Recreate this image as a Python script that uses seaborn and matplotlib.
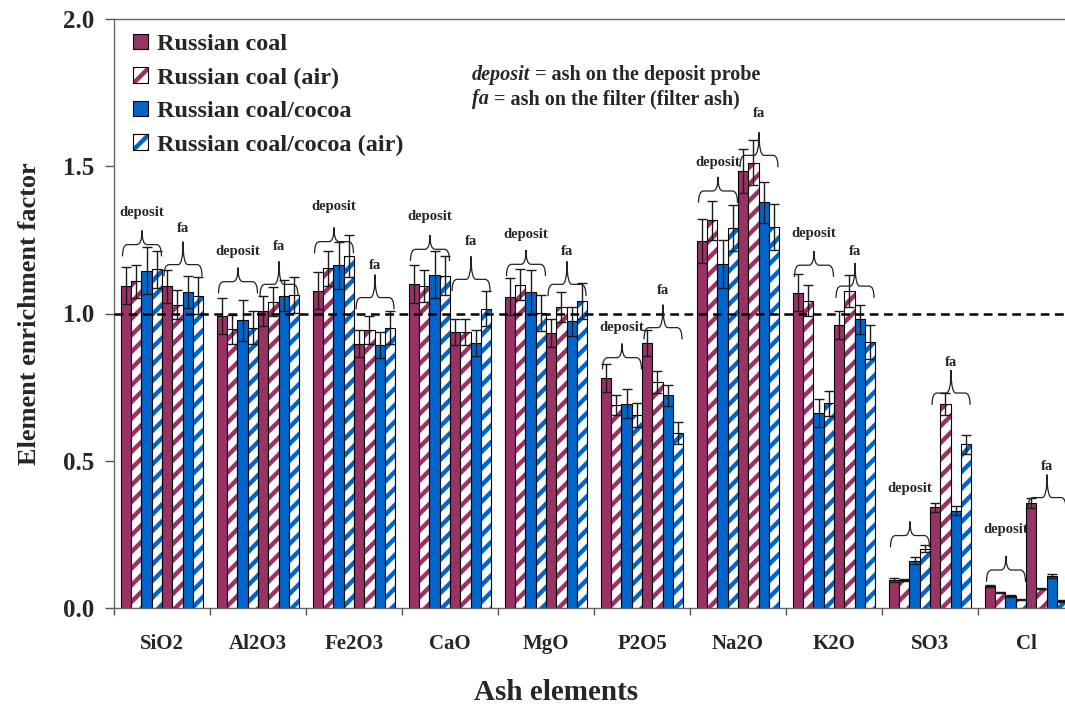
import numpy as np
import pandas as pd
import matplotlib
matplotlib.use("Agg")
import matplotlib.pyplot as plt
import seaborn as sns
from matplotlib.path import Path
from matplotlib.patches import PathPatch, Patch, Rectangle
from matplotlib.container import BarContainer

# ---------------------------------------------------------------- data
elements = ["SiO2", "Al2O3", "Fe2O3", "CaO", "MgO", "P2O5", "Na2O", "K2O", "SO3", "Cl"]
series = ["Russian coal", "Russian coal (air)", "Russian coal/cocoa", "Russian coal/cocoa (air)"]
kinds = ["deposit", "fa"]

# enrichment factors, ash on the deposit probe
rc_dep      = [1.095, 0.991, 1.077, 1.099, 1.057, 0.780, 1.246, 1.070, 0.095, 0.075]
rc_air_dep  = [1.109, 0.946, 1.153, 1.094, 1.098, 0.690, 1.316, 1.044, 0.095, 0.053]
rcc_dep     = [1.146, 0.977, 1.164, 1.131, 1.074, 0.694, 1.167, 0.662, 0.161, 0.040]
rcc_air_dep = [1.150, 0.951, 1.195, 1.129, 1.002, 0.656, 1.291, 0.695, 0.202, 0.028]
# enrichment factors, filter ash
rc_fa       = [1.092, 1.008, 0.898, 0.937, 0.934, 0.900, 1.485, 0.962, 0.342, 0.356]
rc_air_fa   = [1.030, 1.040, 0.944, 0.937, 1.023, 0.768, 1.512, 1.076, 0.693, 0.065]
rcc_fa      = [1.074, 1.061, 0.893, 0.900, 0.973, 0.722, 1.377, 0.980, 0.331, 0.108]
rcc_air_fa  = [1.061, 1.063, 0.951, 1.016, 1.042, 0.594, 1.293, 0.903, 0.556, 0.024]

# standard deviations
rc_dep_err      = [0.064, 0.060, 0.063, 0.065, 0.063, 0.047, 0.075, 0.063, 0.006, 0.004]
rc_air_dep_err  = [0.055, 0.048, 0.058, 0.054, 0.052, 0.033, 0.066, 0.053, 0.003, 0.002]
rcc_dep_err     = [0.081, 0.069, 0.080, 0.080, 0.074, 0.049, 0.081, 0.048, 0.011, 0.003]
rcc_air_dep_err = [0.062, 0.056, 0.071, 0.067, 0.061, 0.041, 0.078, 0.043, 0.011, 0.002]
rc_fa_err       = [0.057, 0.050, 0.045, 0.045, 0.048, 0.045, 0.075, 0.048, 0.016, 0.018]
rc_air_fa_err   = [0.050, 0.050, 0.047, 0.045, 0.051, 0.037, 0.076, 0.055, 0.036, 0.002]
rcc_fa_err      = [0.055, 0.053, 0.044, 0.045, 0.050, 0.035, 0.070, 0.048, 0.015, 0.007]
rcc_air_fa_err  = [0.063, 0.062, 0.056, 0.060, 0.062, 0.038, 0.078, 0.058, 0.032, 0.002]

# height of the brace ends above each group, and of the brace captions
dep_brace_y = [1.194, 1.068, 1.204, 1.178, 1.127, 0.810, 1.376, 1.124, 0.206, 0.089]
fa_brace_y  = [1.126, 1.059, 1.014, 1.076, 1.059, 0.912, 1.497, 1.053, 0.690, 0.335]
dep_label_y = [1.343, 1.209, 1.364, 1.328, 1.269, 0.953, 1.513, 1.270, 0.407, 0.265]
fa_label_y  = [1.290, 1.229, 1.164, 1.246, 1.212, 1.078, 1.679, 1.209, 0.834, 0.481]

values = [rc_dep, rc_air_dep, rcc_dep, rcc_air_dep, rc_fa, rc_air_fa, rcc_fa, rcc_air_fa]
errors = [rc_dep_err, rc_air_dep_err, rcc_dep_err, rcc_air_dep_err,
          rc_fa_err, rc_air_fa_err, rcc_fa_err, rcc_air_fa_err]

# ---------------------------------------------------------------- style
sns.set_style("white")
plt.rcParams["font.family"] = ["Liberation Serif", "DejaVu Serif"]
plt.rcParams["font.weight"] = "bold"
HATCH_LW = 3.2
plt.rcParams["hatch.linewidth"] = HATCH_LW

MAROON = "#993366"
BLUE = "#0066CC"
series_colors = [MAROON, MAROON, BLUE, BLUE]
series_hatched = [False, True, False, True]

runs = [f"{s} | {k}" for k in kinds for s in series]
palette = {r: series_colors[i % 4] for i, r in enumerate(runs)}

df = pd.DataFrame({
    "element": np.tile(elements, len(runs)),
    "run": np.repeat(runs, len(elements)),
    "value": np.concatenate(values),
    "err": np.concatenate(errors),
})

fig = plt.figure(figsize=(10.65, 7.07), dpi=100)
ax = fig.add_axes([114 / 1065, 1 - 608 / 707, 960 / 1065, (608 - 19) / 707])

sns.barplot(data=df, x="element", y="value", hue="run", order=elements,
            hue_order=runs, palette=palette, saturation=1, width=0.855,
            gap=0, errorbar=None, edgecolor="black", linewidth=0.8,
            legend=False, ax=ax)

bar_sets = [c for c in ax.containers if isinstance(c, BarContainer)]


def stripe(patch, color):
    patch.set_facecolor("white")
    patch.set_edgecolor(color)
    patch.set_hatch("//")
    patch.set_linewidth(0)
    if hasattr(patch, "set_hatch_linewidth"):
        patch.set_hatch_linewidth(HATCH_LW)


# hatched series: coloured stripes on white with a black outline
for i, cont in enumerate(bar_sets):
    idx = i % 4
    xs = []
    for p in cont.patches:
        xs.append(p.get_x() + p.get_width() / 2)
        if series_hatched[idx]:
            stripe(p, series_colors[idx])
            ax.add_patch(Rectangle(p.get_xy(), p.get_width(), p.get_height(),
                                   fill=False, edgecolor="black", lw=0.8,
                                   zorder=p.get_zorder() + 0.1))
    ax.errorbar(xs, values[i], yerr=errors[i], fmt="none", ecolor="#1a1a1a",
                elinewidth=1.0, capsize=3.5, capthick=1.0, zorder=4)

ax.axhline(1.0, color="black", lw=1.8, ls=(0, (3.5, 2.2)), zorder=5)


# curly braces marking deposit / filter-ash bars
def draw_brace(x0, x1, y0, tip):
    ys = y0 + 0.040
    yt = ys + tip
    xm = (x0 + x1) / 2
    r = (x1 - x0) * 0.13
    verts = [(x0, y0), (x0, ys), (x0 + r, ys), (xm - r, ys), (xm, ys), (xm, yt),
             (xm, ys), (xm + r, ys), (x1 - r, ys), (x1, ys), (x1, y0)]
    codes = [Path.MOVETO, Path.CURVE3, Path.CURVE3, Path.LINETO, Path.CURVE3,
             Path.CURVE3, Path.CURVE3, Path.CURVE3, Path.LINETO, Path.CURVE3,
             Path.CURVE3]
    ax.add_patch(PathPatch(Path(verts, codes), fill=False, edgecolor="#222222",
                           lw=0.9, zorder=6))
    return xm


bw = bar_sets[0].patches[0].get_width()
for j in range(len(elements)):
    left = bar_sets[0].patches[j].get_x()
    mid = bar_sets[4].patches[j].get_x()
    right = bar_sets[7].patches[j].get_x() + bw
    xm = draw_brace(left + 0.15 * bw, mid - 0.05 * bw, dep_brace_y[j], 0.048)
    ax.text(xm, dep_label_y[j], "deposit", ha="center", va="center",
            fontsize=10.5, fontweight="bold", zorder=7)
    xm = draw_brace(mid + 0.2 * bw, right - 0.1 * bw, fa_brace_y[j], 0.078)
    ax.text(xm, fa_label_y[j], "fa", ha="center", va="center",
            fontsize=10.5, fontweight="bold", zorder=7)

# ---------------------------------------------------------------- axes
ax.set_xlim(-0.5, len(elements) - 0.5)
ax.set_ylim(0, 2.0)
ax.set_yticks([0, 0.5, 1.0, 1.5, 2.0])
ax.set_yticklabels([f"{v:.1f}" for v in [0, 0.5, 1.0, 1.5, 2.0]])
ax.set_xticks(range(len(elements)))
ax.set_xticklabels(elements)
ax.set_xticks(np.arange(-0.5, len(elements), 1.0), minor=True)
ax.tick_params(axis="x", which="major", length=0, pad=19, labelsize=15)
ax.tick_params(axis="x", which="minor", length=5, width=1, color="#555555",
               direction="out", bottom=True)
ax.tick_params(axis="y", which="major", length=6.5, width=1, color="#555555",
               direction="out", pad=8, labelsize=18, left=True)
for s in ax.spines.values():
    s.set_color("#666666")
    s.set_linewidth(1.0)

ax.set_ylabel("Element enrichment factor", fontsize=19, fontweight="bold")
ax.yaxis.set_label_coords(-0.076, 0.5)
ax.set_xlabel("Ash elements", fontsize=21, fontweight="bold")
ax.xaxis.set_label_coords(0.46, -0.12)

# legend
handles = []
for c, h in zip(series_colors, series_hatched):
    if h:
        hp = Patch(facecolor="white", edgecolor=c, hatch="//", lw=0)
        if hasattr(hp, "set_hatch_linewidth"):
            hp.set_hatch_linewidth(HATCH_LW)
        handles.append((hp, Patch(fill=False, edgecolor="black", lw=0.8)))
    else:
        handles.append(Patch(facecolor=c, edgecolor="black", lw=0.8))
fig.legend(handles, series, loc="upper left", bbox_to_anchor=(133 / 1065, 1 - 34 / 707),
           frameon=False, borderpad=0, borderaxespad=0, handlelength=0.6,
           handleheight=0.6, handletextpad=0.4, labelspacing=0.5,
           prop={"size": 17.5, "weight": "bold"})

# note explaining the brace captions
t1 = fig.text(472 / 1065, 1 - 85 / 707, "deposit", fontsize=14.5, fontweight="bold",
              style="italic", va="bottom", ha="left")
ax.annotate(" = ash on the deposit probe", xy=(1, 0), xycoords=t1, va="bottom",
            ha="left", fontsize=14.5, fontweight="bold", annotation_clip=False)
t2 = fig.text(472 / 1065, 1 - 109 / 707, "fa", fontsize=14.5, fontweight="bold",
              style="italic", va="bottom", ha="left")
ax.annotate(" = ash on the filter (filter ash)", xy=(1, 0), xycoords=t2, va="bottom",
            ha="left", fontsize=14.5, fontweight="bold", annotation_clip=False)

fig.savefig("out.png", dpi=100)
